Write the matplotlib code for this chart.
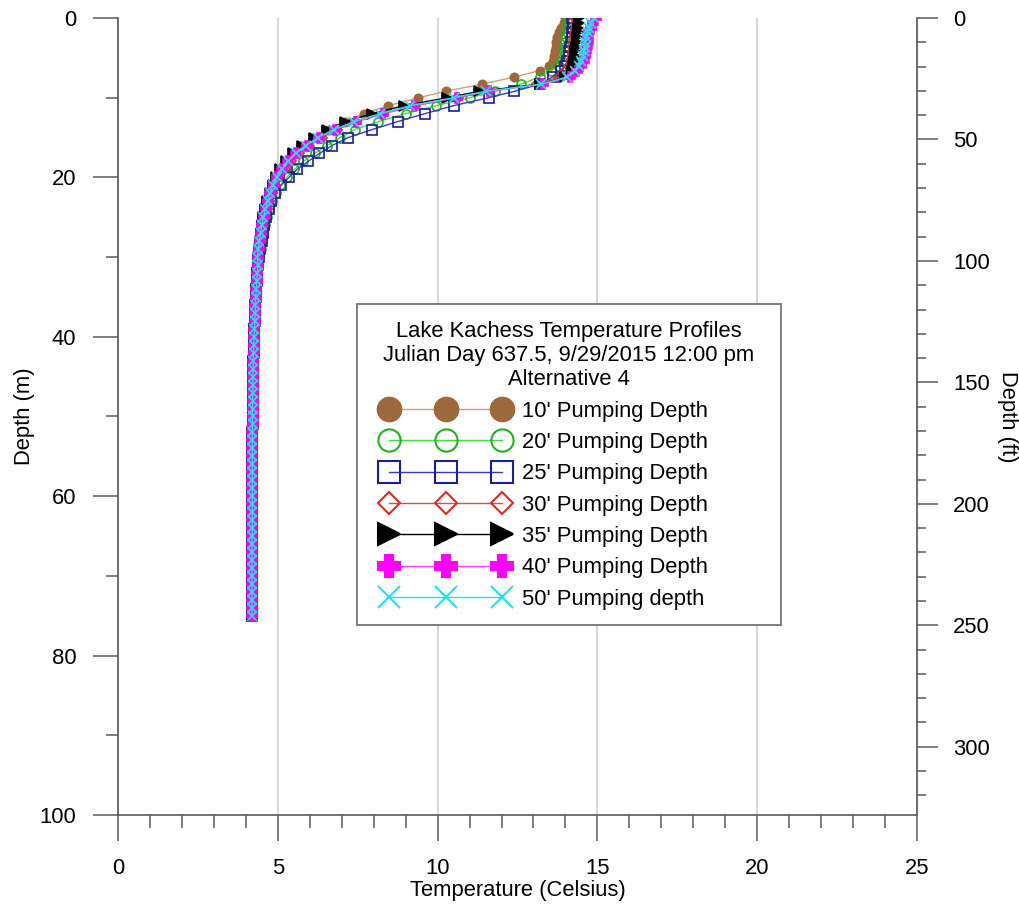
import matplotlib.pyplot as plt
from matplotlib.lines import Line2D
from matplotlib.patches import Rectangle
from matplotlib.legend_handler import HandlerLine2D
from matplotlib.ticker import MultipleLocator

plt.rcParams['font.family'] = ['Liberation Sans', 'DejaVu Sans']

M_TO_FT = 3.28084

# model layer depths (m) shared by every profile
depth_m = [0.0, 0.6, 1.2, 1.8, 2.4, 3.0, 3.6, 4.2, 4.8, 5.4, 6.0, 6.6, 7.4, 8.3, 9.2,
           10, 11, 12, 13, 14, 15, 16, 17, 18, 19, 20, 21, 22, 23, 24, 25, 26, 27, 28, 29, 30,
           31, 32, 33, 34, 35, 36, 37, 38, 39, 40, 41, 42, 43, 44, 45, 46, 47, 48, 49, 50,
           51, 52, 53, 54, 55, 56, 57, 58, 59, 60, 61, 62, 63, 64, 65, 66, 67, 68, 69, 70,
           71, 72, 73, 74, 75]

# hypolimnion temperatures below 30 m, same for every alternative
hypo = [4.38, 4.36, 4.34, 4.33, 4.31, 4.30, 4.29, 4.28, 4.27, 4.26,
        4.25, 4.24, 4.23, 4.23, 4.22, 4.22, 4.22, 4.21, 4.21, 4.21,
        4.21, 4.20, 4.20, 4.20, 4.20, 4.20, 4.20, 4.20, 4.20, 4.20,
        4.20, 4.20, 4.20, 4.20, 4.20, 4.19, 4.19, 4.19, 4.19, 4.19,
        4.19, 4.19, 4.19, 4.19, 4.19]

# temperatures (C) from surface to 30 m for each pumping depth
t_10ft = [14.0, 13.95, 13.85, 13.8, 13.75, 13.72, 13.7, 13.68, 13.65, 13.6, 13.5, 13.2,
          12.4, 11.4, 10.25,
          9.4, 8.45, 7.7, 7.1, 6.6, 6.1, 5.75, 5.5, 5.3, 5.13, 4.97, 4.86, 4.78, 4.71,
          4.65, 4.6, 4.56, 4.52, 4.48, 4.44, 4.41]
t_20ft = [14.1, 14.1, 14.05, 14.05, 14.02, 14.0, 14.0, 13.98, 13.95, 13.9, 13.8, 13.55,
          13.2, 12.6, 11.8,
          11.0, 9.95, 9.0, 8.15, 7.4, 6.95, 6.55, 6.15, 5.8, 5.52, 5.28, 5.08, 4.93, 4.82,
          4.73, 4.66, 4.6, 4.55, 4.5, 4.46, 4.42]
t_25ft = [14.2, 14.25, 14.25, 14.22, 14.2, 14.18, 14.15, 14.12, 14.1, 14.05, 14.0, 13.85,
          13.6, 13.2, 12.4,
          11.6, 10.5, 9.6, 8.75, 7.95, 7.2, 6.7, 6.3, 5.95, 5.6, 5.35, 5.1, 4.92, 4.8,
          4.71, 4.64, 4.58, 4.53, 4.49, 4.45, 4.42]
t_30ft = [14.3, 14.32, 14.32, 14.3, 14.28, 14.27, 14.25, 14.23, 14.2, 14.18, 14.12, 14.0,
          13.8, 13.1, 11.6,
          10.65, 9.3, 8.3, 7.45, 6.85, 6.38, 5.98, 5.66, 5.41, 5.21, 5.05, 4.92, 4.82, 4.73,
          4.66, 4.6, 4.54, 4.5, 4.46, 4.42, 4.39]
t_35ft = [14.42, 14.42, 14.4, 14.38, 14.36, 14.35, 14.33, 14.31, 14.3, 14.28, 14.25, 14.2,
          14.0, 13.2, 11.3,
          10.3, 8.95, 7.95, 7.1, 6.55, 6.12, 5.75, 5.47, 5.25, 5.08, 4.95, 4.84, 4.75, 4.67,
          4.6, 4.55, 4.5, 4.46, 4.43, 4.4, 4.37]
t_40ft = [14.95, 14.85, 14.8, 14.75, 14.72, 14.7, 14.68, 14.65, 14.62, 14.58, 14.5, 14.35,
          14.15, 13.3, 11.6,
          10.6, 9.25, 8.3, 7.45, 6.8, 6.3, 5.9, 5.58, 5.33, 5.14, 4.99, 4.87, 4.77, 4.69,
          4.62, 4.56, 4.51, 4.47, 4.43, 4.4, 4.37]
t_50ft = [14.9, 14.8, 14.75, 14.7, 14.65, 14.62, 14.6, 14.58, 14.55, 14.5, 14.42, 14.3,
          14.05, 13.25, 11.5,
          10.5, 9.15, 8.2, 7.38, 6.75, 6.25, 5.87, 5.56, 5.31, 5.12, 4.97, 4.85, 4.75, 4.68,
          4.61, 4.55, 4.5, 4.46, 4.42, 4.39, 4.36]

labels = ["10' Pumping Depth", "20' Pumping Depth", "25' Pumping Depth",
          "30' Pumping Depth", "35' Pumping Depth", "40' Pumping Depth",
          "50' Pumping depth"]
profiles = [t_10ft, t_20ft, t_25ft, t_30ft, t_35ft, t_40ft, t_50ft]

# marker, marker face, marker edge, line colour, marker size (plot), marker size (legend)
styles = [
    ('o', '#9c6a3a', '#9c6a3a', '#c9a27c', 6.0, 17),
    ('o', 'none', '#22b022', '#3fe03f', 6.5, 16),
    ('s', 'none', '#1c1ca0', '#3a3ad0', 7.0, 16),
    ('D', 'none', '#e02828', '#e84848', 5.0, 11.5),
    ('>', 'black', 'black', 'black', 6.5, 16),
    ('P', '#ff00ff', '#ff00ff', '#ff40ff', 6.5, 16),
    ('x', '#1ee6e6', '#1ee6e6', '#1ee6e6', 6.5, 16),
]

FS = 15.8
SPINE = '#5a5a5a'

fig = plt.figure(figsize=(10.2, 9.05), dpi=100)
ax = fig.add_axes([118 / 1020, 1 - 815 / 905, 799 / 1020, 797 / 905])

handles = []
for temps, lab, (mk, mfc, mec, lc, ms, lms) in zip(profiles, labels, styles):
    ax.plot(temps + hypo, depth_m, color=lc, lw=1.0, marker=mk, mfc=mfc, mec=mec,
            ms=ms, mew=1.2)
    handles.append(Line2D([], [], color=lc, lw=1.0, marker=mk, mfc=mfc, mec=mec,
                          ms=lms, mew=1.5, label=lab))

ax.set_xlim(0, 25)
ax.set_ylim(100, 0)
ax.xaxis.set_major_locator(MultipleLocator(5))
ax.xaxis.set_minor_locator(MultipleLocator(1))
ax.yaxis.set_major_locator(MultipleLocator(20))
ax.yaxis.set_minor_locator(MultipleLocator(10))
ax.grid(axis='x', which='major', color='#cfcfcf', lw=1.2)
ax.set_axisbelow(True)

for side in ('top', 'right'):
    ax.spines[side].set_visible(False)
for side in ('left', 'bottom'):
    ax.spines[side].set_color(SPINE)
    ax.spines[side].set_linewidth(1.2)

ax.tick_params(which='both', direction='out', color=SPINE, width=1.1, labelsize=FS)
ax.tick_params(axis='x', which='major', length=19, pad=12)
ax.tick_params(axis='x', which='minor', length=9)
ax.tick_params(axis='y', which='major', length=18, pad=12)
ax.tick_params(axis='y', which='minor', length=9)

ax.set_xlabel('Temperature (Celsius)', fontsize=FS, labelpad=1)
ax.set_ylabel('Depth (m)', fontsize=FS, labelpad=3)

# feet scale on the right
ax2 = ax.twinx()
ax2.set_ylim(100 * M_TO_FT, 0)
ax2.yaxis.set_major_locator(MultipleLocator(50))
ax2.yaxis.set_minor_locator(MultipleLocator(10))
for side in ('top', 'left', 'bottom'):
    ax2.spines[side].set_visible(False)
ax2.spines['right'].set_color(SPINE)
ax2.spines['right'].set_linewidth(1.2)
ax2.tick_params(which='both', direction='out', color=SPINE, width=1.1, labelsize=FS)
ax2.tick_params(which='major', length=15, pad=11)
ax2.tick_params(which='minor', length=6.5)
ax2.set_ylabel('Depth (ft)', fontsize=FS, rotation=270, labelpad=20)

# legend with title lines, framed by a box
leg = fig.legend(handles=handles, loc='upper center',
                 bbox_to_anchor=(569 / 1020, 1 - 321 / 905),
                 title='Lake Kachess Temperature Profiles\n'
                       'Julian Day 637.5, 9/29/2015 12:00 pm\nAlternative 4',
                 fontsize=FS, title_fontsize=FS, frameon=False, numpoints=3,
                 handlelength=5.67, handletextpad=0.66, labelspacing=0.47,
                 borderpad=0, borderaxespad=0, alignment='left',
                 handler_map={Line2D: HandlerLine2D(marker_pad=0.25)})
leg.get_title().set_multialignment('center')
fig.patches.append(Rectangle((357 / 1020, 1 - 625 / 905), 424 / 1020, 321 / 905,
                             transform=fig.transFigure, fill=True, fc='white',
                             ec='#6a6a6a', lw=1.2, zorder=1))
leg.set_zorder(5)

fig.savefig('out.png', dpi=100)
